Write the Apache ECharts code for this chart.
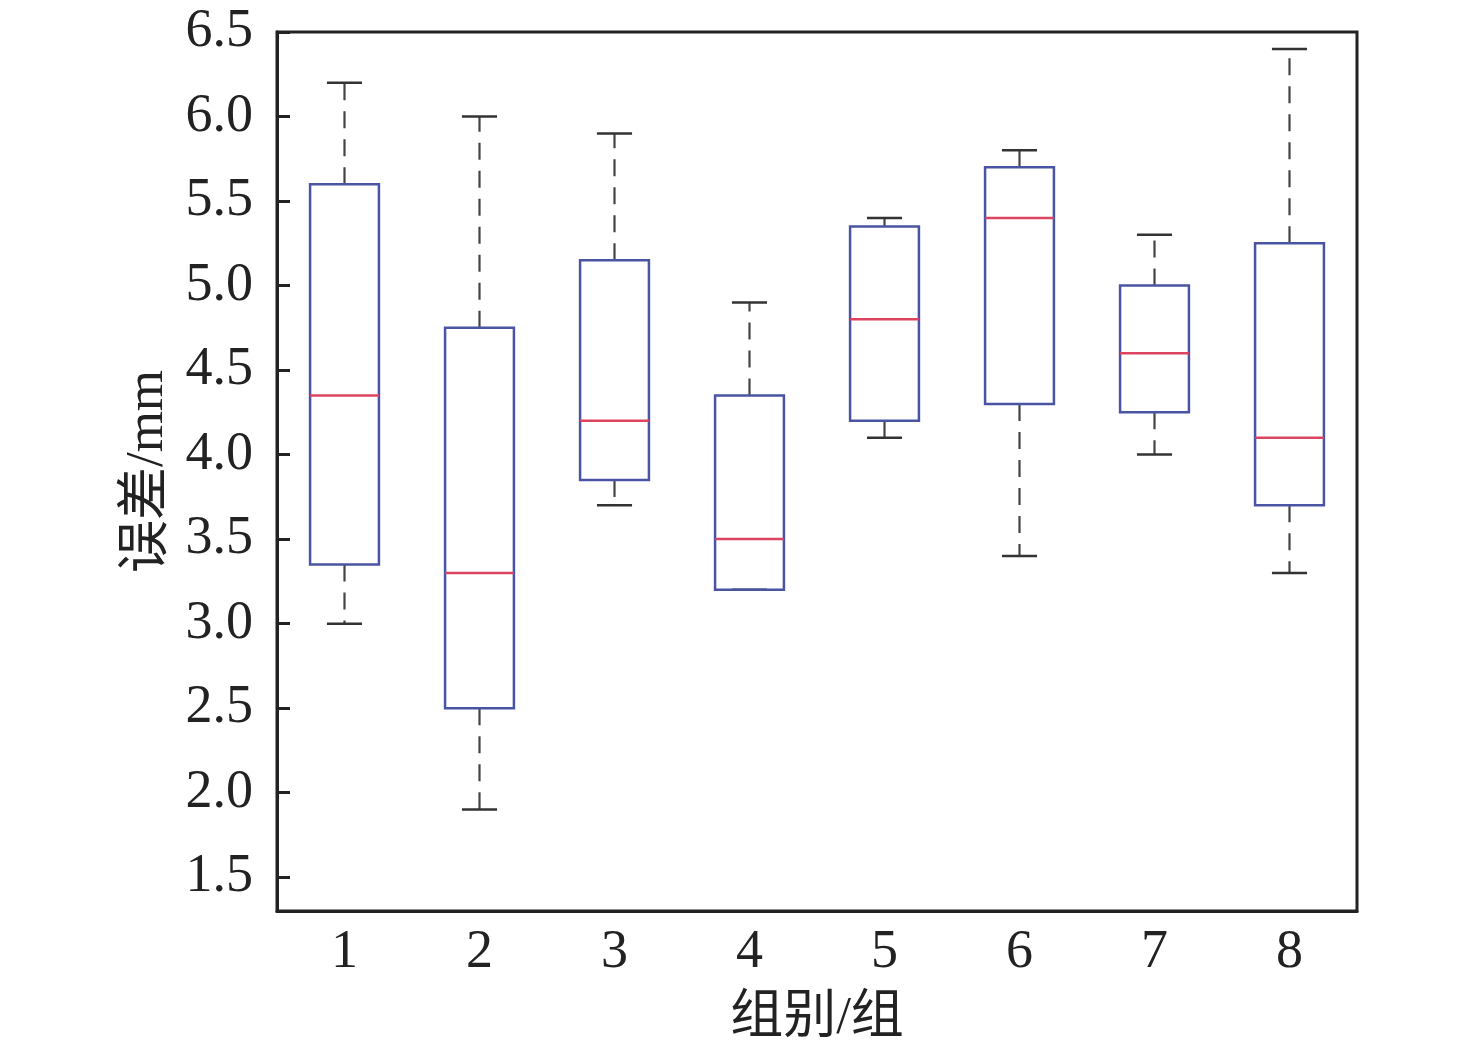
<!DOCTYPE html>
<html>
<head>
<meta charset="utf-8">
<title>误差箱线图</title>
<script src="https://cdn.jsdelivr.net/npm/echarts@6/dist/echarts.min.js"></script>
<style>
    html, body { margin: 0; padding: 0; background: #fff; }
    #main { width: 1476px; height: 1051px; }
</style>
</head>
<body>
<div id="main"></div>
<script>
// 组别
var groups = ['1', '2', '3', '4', '5', '6', '7', '8'];
// 箱线图五数：下须、下四分位、中位数、上四分位、上须 (mm)
var lowWhisker  = [3.0, 1.9, 3.7, 3.2, 4.1, 3.4, 4.0, 3.3];
var lowerQuart  = [3.35, 2.5, 3.85, 3.2, 4.2, 4.3, 4.25, 3.7];
var medians     = [4.35, 3.3, 4.2, 3.5, 4.8, 5.4, 4.6, 4.1];
var upperQuart  = [5.6, 4.75, 5.15, 4.35, 5.35, 5.7, 5.0, 5.25];
var highWhisker = [6.2, 6.0, 5.9, 4.9, 5.4, 5.8, 5.3, 6.4];

var serif = "'Liberation Serif', 'Times New Roman', 'Noto Sans CJK SC', serif";

var boxData = [];
for (var i = 0; i < groups.length; i++) {
    boxData.push([i, lowWhisker[i], lowerQuart[i], medians[i], upperQuart[i], highWhisker[i]]);
}

function renderBox(params, api) {
    var idx = api.value(0);
    var band = api.size([1, 0])[0];
    var boxW = band * 0.51;
    var capW = band * 0.26;
    var pLow = api.coord([idx, api.value(1)]);
    var pQ1 = api.coord([idx, api.value(2)]);
    var pMed = api.coord([idx, api.value(3)]);
    var pQ3 = api.coord([idx, api.value(4)]);
    var pHigh = api.coord([idx, api.value(5)]);
    var x = pMed[0];

    var dash = { stroke: '#444', lineWidth: 2.2, lineDash: [17, 11] };
    var cap = { stroke: '#333', lineWidth: 2.5 };
    var children = [];

    // 须线（虚线），从箱体向外
    if (pHigh[1] < pQ3[1]) {
        children.push({ type: 'line', shape: { x1: x, y1: pQ3[1], x2: x, y2: pHigh[1] }, style: dash });
    }
    if (pLow[1] > pQ1[1]) {
        children.push({ type: 'line', shape: { x1: x, y1: pQ1[1], x2: x, y2: pLow[1] }, style: dash });
    }
    // 端线
    children.push({ type: 'line', shape: { x1: x - capW / 2, y1: pHigh[1], x2: x + capW / 2, y2: pHigh[1] }, style: cap });
    children.push({ type: 'line', shape: { x1: x - capW / 2, y1: pLow[1], x2: x + capW / 2, y2: pLow[1] }, style: cap });
    // 箱体
    children.push({
        type: 'rect',
        shape: { x: x - boxW / 2, y: pQ3[1], width: boxW, height: pQ1[1] - pQ3[1] },
        style: { fill: 'none', stroke: '#4b54a4', lineWidth: 2.5 }
    });
    // 中位数
    children.push({
        type: 'line',
        shape: { x1: x - boxW / 2, y1: pMed[1], x2: x + boxW / 2, y2: pMed[1] },
        style: { stroke: '#dc4461', lineWidth: 2.5 }
    });
    return { type: 'group', children: children };
}

var myChart = echarts.init(document.getElementById('main'));

var option = {
    animation: false,
    backgroundColor: '#fff',
    grid: {
        left: 277, top: 32, right: 119, bottom: 139,
        show: true, borderColor: '#222', borderWidth: 3,
        backgroundColor: 'transparent'
    },
    xAxis: {
        type: 'category',
        data: groups,
        name: '组别/组',
        nameLocation: 'middle',
        nameGap: 82,
        nameTextStyle: { fontFamily: serif, fontSize: 53, color: '#222' },
        axisLine: { lineStyle: { color: '#222', width: 3 } },
        axisTick: { alignWithLabel: true, inside: true, length: 13, lineStyle: { color: '#222', width: 3 } },
        axisLabel: { fontFamily: serif, fontSize: 54, color: '#222', margin: 15 },
        splitLine: { show: false }
    },
    yAxis: {
        type: 'value',
        min: 1.3,
        max: 6.5,
        splitNumber: 10,
        name: '误差/mm',
        nameLocation: 'middle',
        nameGap: 100,
        nameTextStyle: { fontFamily: serif, fontSize: 53, color: '#222' },
        axisLine: { show: true, lineStyle: { color: '#222', width: 3 } },
        axisTick: { show: true, inside: true, length: 13, lineStyle: { color: '#222', width: 3 } },
        axisLabel: {
            fontFamily: serif, fontSize: 54, color: '#222', margin: 24,
            showMinLabel: false,
            formatter: function (v) { return v.toFixed(1); }
        },
        splitLine: { show: false }
    },
    series: [
        {
            name: '误差',
            type: 'custom',
            renderItem: renderBox,
            encode: { x: 0, y: [1, 2, 3, 4, 5] },
            data: boxData,
            z: 10
        }
    ]
};

myChart.setOption(option);
</script>
</body>
</html>
